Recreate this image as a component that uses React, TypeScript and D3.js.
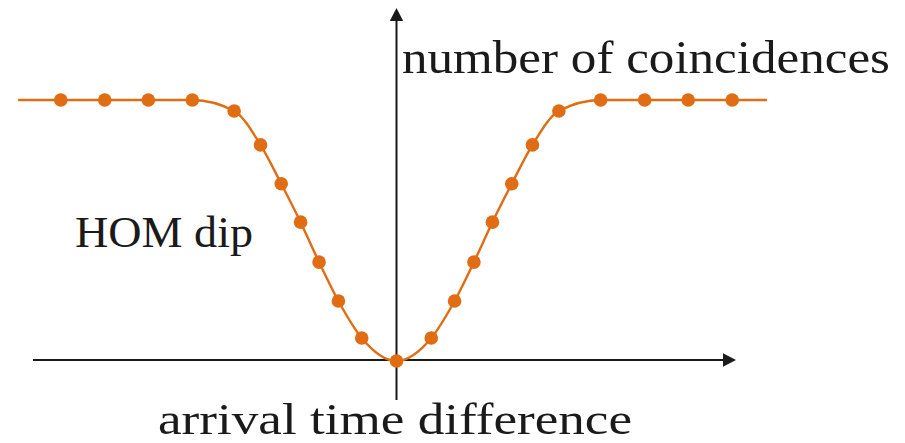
import React from "react";
import * as d3 from "d3";

// Measured coincidence rate (normalised) against arrival-time difference τ (arb. units)
const delays = [
  -7.63, -6.63, -5.64, -4.64, -3.69, -3.09, -2.62, -2.18, -1.76, -1.32, -0.79,
  0, 0.79, 1.32, 1.76, 2.18, 2.62, 3.09, 3.69, 4.64, 5.64, 6.63, 7.63,
];
const coincidences = [
  1.0, 1.0, 1.0, 1.0, 0.958, 0.828, 0.679, 0.532, 0.379, 0.23, 0.088,
  0, 0.088, 0.23, 0.379, 0.532, 0.679, 0.828, 0.958, 1.0, 1.0, 1.0, 1.0,
];

// Smooth fit drawn through the measurements, extended to the plateau ends
const fitDelays = [-8.6, ...delays, 8.42];
const fitValues = [1.0, ...coincidences, 1.0];

const xLabel = "arrival time difference";
const yLabel = "number of coincidences";
const dipLabel = "HOM dip";

const W = 905;
const H = 443;
const ORANGE = "#e06c14";
const INK = "#1a1a1a";
const FONT = "Liberation Serif";

export default function App() {
  const x = d3.scaleLinear().domain([-9, 9]).range([0.5, 792.5]);
  const y = d3.scaleLinear().domain([0, 1]).range([361, 100]);

  const x0 = x(0);
  const yBase = y(0) - 1;

  const fit = d3
    .line<number>()
    .x((_, i) => x(fitDelays[i]))
    .y((v) => y(v))
    .curve(d3.curveMonotoneX)(fitValues);

  const axisLeft = 33;
  const axisRightTip = 736;
  const arrowLen = 13;
  const arrowHalf = 6.7;
  const yTopTip = 8;
  const yBottom = 400;

  return (
    <svg
      width={W}
      height={H}
      style={{ position: "absolute", left: 0, top: 0, background: "#fff" }}
    >
      {/* horizontal axis with arrow */}
      <line
        x1={axisLeft}
        y1={yBase}
        x2={axisRightTip - arrowLen + 1}
        y2={yBase}
        stroke={INK}
        strokeWidth={2}
      />
      <path
        d={`M${axisRightTip},${yBase} L${axisRightTip - arrowLen},${yBase - arrowHalf} L${axisRightTip - arrowLen},${yBase + arrowHalf} Z`}
        fill={INK}
      />
      {/* vertical axis with arrow */}
      <line
        x1={x0}
        y1={yBottom}
        x2={x0}
        y2={yTopTip + arrowLen - 1}
        stroke={INK}
        strokeWidth={2}
      />
      <path
        d={`M${x0},${yTopTip} L${x0 - arrowHalf},${yTopTip + arrowLen} L${x0 + arrowHalf},${yTopTip + arrowLen} Z`}
        fill={INK}
      />

      {/* fitted curve */}
      <path d={fit ?? ""} fill="none" stroke={ORANGE} strokeWidth={2.4} />

      {/* measured points */}
      {delays.map((t, i) => (
        <circle key={i} cx={x(t)} cy={y(coincidences[i])} r={6.8} fill={ORANGE} />
      ))}

      {/* labels */}
      <text
        x={402}
        y={73}
        fontFamily={FONT}
        fontSize={46}
        fill={INK}
        textLength={488}
        lengthAdjust="spacingAndGlyphs"
      >
        {yLabel}
      </text>
      <text
        x={75}
        y={247}
        fontFamily={FONT}
        fontSize={45}
        fill={INK}
        textLength={178}
        lengthAdjust="spacingAndGlyphs"
      >
        {dipLabel}
      </text>
      <text
        x={158}
        y={434}
        fontFamily={FONT}
        fontSize={44}
        fill={INK}
        textLength={474}
        lengthAdjust="spacingAndGlyphs"
      >
        {xLabel}
      </text>
    </svg>
  );
}
